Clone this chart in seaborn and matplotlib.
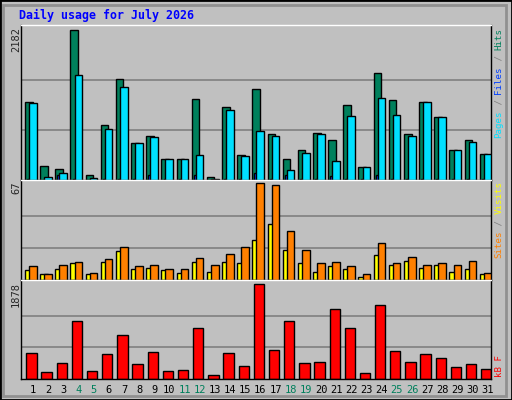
import numpy as np
import matplotlib
matplotlib.use("Agg")
import matplotlib.pyplot as plt
import seaborn as sns
from matplotlib.patches import Rectangle

# Webalizer-style daily usage
DAYS = list(range(1, 32))
HITS = [1135, 197, 158, 2182, 69, 795, 1461, 543, 632, 306, 306, 1180, 39, 1061, 365, 1323,
        661, 306, 439, 676, 573, 1091, 188, 1550, 1165, 661, 1135, 913, 439, 573, 380]
FILES = [10, 5, 69, 10, 5, 20, 20, 10, 69, 10, 10, 69, 5, 20, 10, 99,
         20, 69, 20, 10, 54, 20, 10, 69, 20, 10, 10, 10, 10, 10, 10]
PAGES = [1121, 39, 99, 1520, 25, 736, 1343, 543, 617, 306, 306, 365, 20, 1017, 346, 706,
         632, 143, 395, 661, 276, 928, 188, 1195, 943, 632, 1135, 913, 439, 558, 380]
VISITS = [6.7, 3.9, 7.5, 11.8, 3.9, 12.5, 19.8, 7.5, 8.2, 6.7, 4.6, 12.5, 5.3, 12.5, 11.8, 27.7,
          38.6, 20.5, 11.8, 5.3, 9.6, 7.5, 2.4, 17.6, 10.4, 13.3, 8.2, 10.4, 5.3, 7.5, 3.9]
SITES = [9.6, 3.9, 10.4, 12.5, 4.6, 14.7, 22.7, 9.6, 10.4, 7.5, 7.5, 15.4, 10.4, 18.3, 22.7, 67,
         65.6, 34.2, 20.5, 11.8, 12.5, 9.6, 3.9, 25.5, 11.8, 16.1, 10.4, 11.8, 10.4, 13.3, 4.6]
KBYTES = [521, 130, 315, 1158, 151, 500, 870, 295, 541, 151, 171, 1014, 89, 521, 254, 1878,
          583, 1158, 315, 336, 1385, 1014, 110, 1467, 562, 336, 500, 418, 233, 295, 192]
WEEKENDS = [4, 5, 11, 12, 18, 19, 25, 26]

BG = "#C0C0C0"
GRID = "#808080"
C_HITS, C_FILES, C_PAGES = "#00805C", "#0040FF", "#00E0FF"
C_VISITS, C_SITES, C_KB = "#FFFF00", "#FF8000", "#FF0000"
WKEND = "#00805C"
MONO = "DejaVu Sans Mono"

sns.set_style("white")
plt.rcParams["font.family"] = MONO

fig = plt.figure(figsize=(5.12, 4.0), dpi=100, facecolor=BG)
fig.patches.append(Rectangle((0, 0), 1, 1, transform=fig.transFigure, fill=False,
                             edgecolor="black", lw=2))
fig.patches.append(Rectangle((0.006, 0.01), 0.982, 0.978, transform=fig.transFigure, fill=False,
                             edgecolor="#909090", lw=2))

L, W = 21 / 512, 470 / 512
ax_top = fig.add_axes([L, 0.55, W, 0.3875])
ax_mid = fig.add_axes([L, 0.30, W, 0.25])
ax_bot = fig.add_axes([L, 0.0525, W, 0.2475])

x = np.array(DAYS, dtype=float)


def style(ax, vmax, scale):
    ax.set_facecolor(BG)
    ax.set_xlim(1 - 0.79, 31 + 0.21)
    ax.set_ylim(0, vmax * scale)
    for g in (vmax / 3, vmax * 2 / 3):
        ax.axhline(g, color=GRID, lw=1.2, zorder=0)
    for s in ax.spines.values():
        s.set_color("black")
        s.set_linewidth(1)
    ax.spines["top"].set_color("white")
    ax.set_yticks([])
    ax.set_xticks([])


kw = dict(edgecolor="black", linewidth=1, align="edge", width=0.5)
ax_top.bar(x - 0.53, HITS, color=C_HITS, zorder=2, **kw)
ax_top.bar(x - 0.39, FILES, color=C_FILES, zorder=3, **kw)
ax_top.bar(x - 0.26, PAGES, color=C_PAGES, zorder=4, **kw)
style(ax_top, max(HITS), 1.03)

ax_mid.bar(x - 0.53, VISITS, color=C_VISITS, zorder=2, **kw)
ax_mid.bar(x - 0.26, SITES, color=C_SITES, zorder=3, **kw)
style(ax_mid, max(SITES), 1.035)

ax_bot.bar(x - 0.44, KBYTES, color=C_KB, edgecolor="black", linewidth=1, align="edge",
           width=0.68, zorder=2)
style(ax_bot, max(KBYTES), 1.047)
ax_bot.set_xticks(DAYS)
ax_bot.set_xticklabels([str(d) for d in DAYS], fontsize=7.5)
ax_bot.tick_params(axis="x", length=0, pad=4)
for lbl, d in zip(ax_bot.get_xticklabels(), DAYS):
    lbl.set_color(WKEND if d in WEEKENDS else "black")

# title
fig.text(19 / 512, 1 - 15 / 400, "Daily usage for July 2026", color="#0000FF",
         fontsize=8.4, fontweight="bold", va="center", ha="left")

# max values on the left
for val, ax in ((max(HITS), ax_top), (int(max(SITES)), ax_mid), (max(KBYTES), ax_bot)):
    top = ax.get_position().y1
    fig.text(16 / 512, top - 0.005, str(val), rotation=90, fontsize=7.5,
             ha="center", va="top")


def side_label(parts, y_bottom_px):
    # stack coloured pieces bottom-to-top, fixed monospace advance
    y = y_bottom_px
    for txt, col in parts:
        fig.text(499 / 512, 1 - y / 400, txt, color=col, rotation=90, fontsize=6.6,
                 ha="center", va="bottom")
        y -= len(txt) * 5.5


side_label([("Pages", C_PAGES), (" / ", GRID), ("Files", C_FILES), (" / ", GRID),
            ("Hits", C_HITS)], 138)
side_label([("Sites", C_SITES), (" / ", GRID), ("Visits", C_VISITS)], 258)
side_label([("kB F", C_KB)], 377)

fig.savefig("out.png", dpi=100, facecolor=BG)
